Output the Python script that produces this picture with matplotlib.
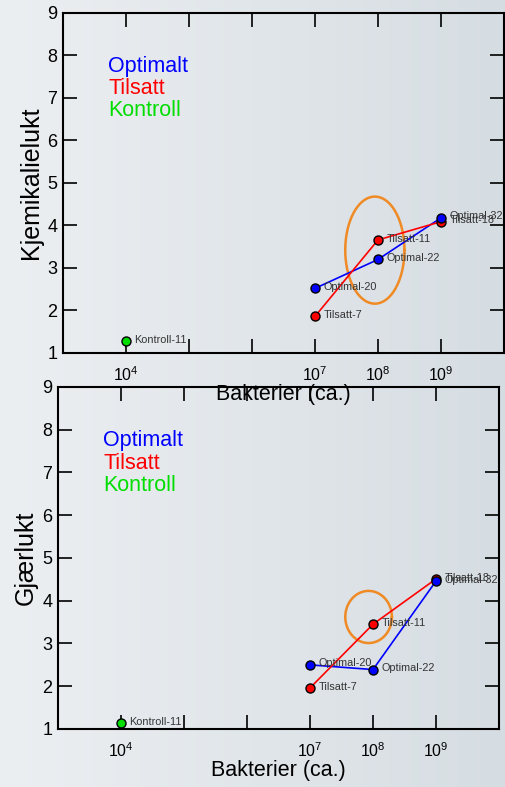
import numpy as np
import matplotlib
matplotlib.use("Agg")
import matplotlib.pyplot as plt
from matplotlib.colors import LinearSegmentedColormap

plt.rcParams['font.family'] = ['Liberation Sans', 'DejaVu Sans']
plt.rcParams['mathtext.fontset'] = 'custom'
plt.rcParams['mathtext.rm'] = 'Liberation Sans'

# data (bakterier i log-skala, score på y)
x_opt = [1e7, 1e8, 1e9]
x_til = [1e7, 1e8, 1e9]
x_kon = [1e4]
navn_opt = ['Optimal-20', 'Optimal-22', 'Optimal-32']
navn_til = ['Tilsatt-7', 'Tilsatt-11', 'Tilsatt-18']
navn_kon = ['Kontroll-11']

kjem_opt = [2.52, 3.20, 4.18]
kjem_til = [1.86, 3.66, 4.09]
kjem_kon = [1.28]

gjaer_opt = [2.50, 2.39, 4.46]
gjaer_til = [1.96, 3.45, 4.51]
gjaer_kon = [1.14]

xtick_pos = [1e4, 1e5, 1e6, 1e7, 1e8, 1e9]
xtick_lab = [r'$\mathregular{10^{4}}$', '', '', r'$\mathregular{10^{7}}$',
             r'$\mathregular{10^{8}}$', r'$\mathregular{10^{9}}$']

# ellipse: (senter log10 x, senter y, halvbredde i dekader, halvhøyde)
ell_kjem = (7.95, 3.42, 0.47, 1.26)
ell_gjaer = (7.93, 3.62, 0.37, 0.61)

BLA = '#0000ff'
ROD = '#ff0000'
GRONN = '#00dd00'
ORANSJE = '#f08a24'

fig = plt.figure(figsize=(5.05, 7.87), dpi=100)

# bakgrunn med svak gradient
bg = fig.add_axes([0, 0, 1, 1], zorder=-10)
grad = np.linspace(0, 1, 256).reshape(1, -1)
cmap = LinearSegmentedColormap.from_list('bg', ['#eceff2', '#d6dde2'])
bg.imshow(grad, aspect='auto', cmap=cmap, extent=[0, 1, 0, 1])
bg.axis('off')


def tegn(ax, y_opt, y_til, y_kon, ell, ylabel):
    ax.set_facecolor('none')
    ax.plot(x_opt, y_opt, color=BLA, lw=1.2, zorder=3)
    ax.plot(x_til, y_til, color=ROD, lw=1.2, zorder=3)
    ax.plot(x_til, y_til, 'o', ms=6.5, mfc=ROD, mec='black', mew=1, zorder=4)
    ax.plot(x_opt, y_opt, 'o', ms=6.5, mfc=BLA, mec='black', mew=1, zorder=5)
    ax.plot(x_kon, y_kon, 'o', ms=6.5, mfc=GRONN, mec='black', mew=1, zorder=5)
    for xs, ys, navn in [(x_opt, y_opt, navn_opt), (x_til, y_til, navn_til), (x_kon, y_kon, navn_kon)]:
        for x, y, n in zip(xs, ys, navn):
            ax.annotate(n, (x, y), xytext=(6, 1), textcoords='offset points',
                        fontsize=7.8, color='#333333', va='center', zorder=6)

    # oransje ring
    t = np.linspace(0, 2 * np.pi, 200)
    cx, cy, a, b = ell
    ax.plot(10 ** (cx + a * np.cos(t)), cy + b * np.sin(t), color=ORANSJE, lw=1.8, zorder=2)

    ax.text(0.102, 0.826, 'Optimalt', color=BLA, fontsize=15.5, transform=ax.transAxes)
    ax.text(0.102, 0.761, 'Tilsatt', color=ROD, fontsize=15.5, transform=ax.transAxes)
    ax.text(0.102, 0.696, 'Kontroll', color=GRONN, fontsize=15.5, transform=ax.transAxes)

    ax.set_xscale('log')
    ax.set_xlim(1e3, 1e10)
    ax.set_ylim(1, 9)
    ax.set_xticks(xtick_pos)
    ax.set_xticklabels(xtick_lab, fontsize=11.5)
    ax.minorticks_off()
    ax.set_yticks(range(1, 10))
    ax.tick_params(axis='y', direction='in', length=10, width=1.2, labelsize=13,
                   right=True, pad=4)
    ax.tick_params(axis='x', direction='in', length=10, width=1.2, top=True, pad=9)
    for s in ax.spines.values():
        s.set_linewidth(1.5)
    ax.set_ylabel(ylabel, fontsize=18, labelpad=3)
    ax.set_xlabel('Bakterier (ca.)', fontsize=15.5, labelpad=0)


ax1 = fig.add_axes([0.1248, 0.5515, 0.8732, 0.432])
tegn(ax1, kjem_opt, kjem_til, kjem_kon, ell_kjem, 'Kjemikalielukt')

ax2 = fig.add_axes([0.1149, 0.0737, 0.8732, 0.4346])
tegn(ax2, gjaer_opt, gjaer_til, gjaer_kon, ell_gjaer, 'Gjærlukt')
ax1.set_zorder(5)

fig.savefig('out.png', dpi=100)
